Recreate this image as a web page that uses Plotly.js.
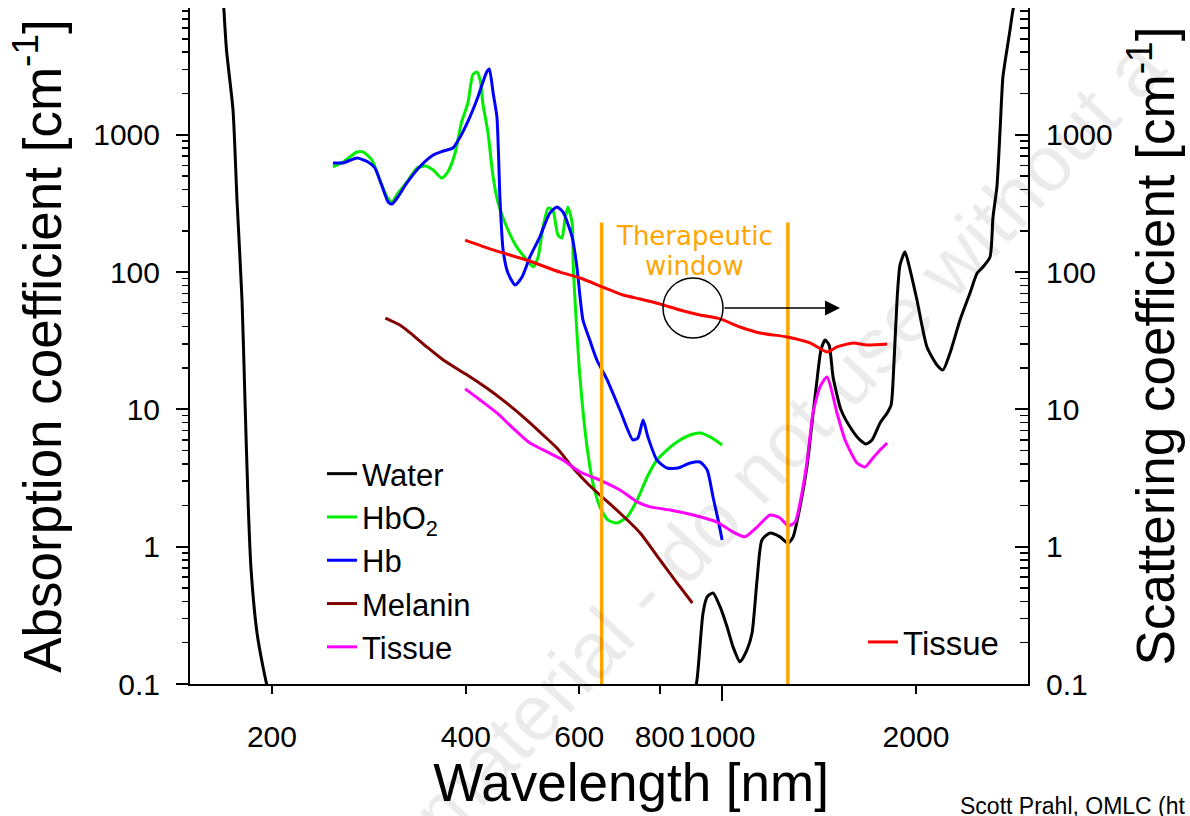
<!DOCTYPE html>
<html><head><meta charset="utf-8">
<script src="https://cdn.plot.ly/plotly-3.0.1.min.js"></script>
<style>html,body{margin:0;padding:0;background:#fff}#chart{width:1190px;height:816px}</style>
</head><body><div id="chart"></div>
<script>
// ---- data (wavelength in nm, coefficients in cm^-1) ----
const waterNm = [168,170,174,176.5,179.7,181.6,183.6,185.5,189.6,193.7,197.2,210,300,500,700,800,892,914,934,948,968,993,1018,1040,1066,1093,1113,1133,1153,1187,1230,1266,1289,1321,1354,1379,1404,1424,1445,1466,1487,1530,1591,1637,1673,1709,1759,1804,1830,1843,1869,1889,1923,1958,2007,2080,2157,2203,2259,2341,2426,2488,2541,2606,2634,2671,2700,2729,2768,2799,2829,2858];
const waterMua = [10000,4146,1516,335,62.6,11.7,2.19,0.711,0.235,0.133,0.0904,0.03,0.001,0.0003,0.006,0.02,0.06,0.107,0.329,0.431,0.46,0.364,0.26,0.186,0.145,0.177,0.235,0.572,1.12,1.26,1.18,1.06,1.18,1.95,3.81,7.96,16.4,27.1,32.0,29.4,17.2,9.9,7.08,5.99,5.6,5.99,7.96,9.42,10.8,16.4,62.6,113,140,104,62.6,28.5,21.0,19.4,25.8,44.8,70.4,98,109,129,252,417,1030,2636,4146,5797,8110,9595];

const hbo2Nm = [248.7,257.9,271,277,286,294,302,307,314,324,336,346,356,367,375,385,394,403,410,416,421,425,433,441,449,463,480,498,509,518,527,537,546,556,564,570,576,585,587,591,602,617,630,646,665,687,712,738,765,792,821,851,892,924,958,1000];
const hbo2Mua = [583,634,750,750,655,469,352,324,377,453,573,593,554,484,536,737,1240,1706,2729,2866,2506,1706,1030,493,318,213,152,122,109,129,213,293,283,186,177,240,298,228,116,62.6,16.4,5.32,2.91,1.95,1.56,1.49,1.65,2.19,3.22,4.28,5.06,5.79,6.51,6.73,6.30,5.51];

const hbNm = [248.7,257.9,271,282,289,296,303,307,313,324,339,356,369,382,392,402,416,431,435,441,447,452,457,465,477,489,503,521,540,554,566,585,595,602,608,623,639,663,694,727,740,754,767,792,821,854,892,924,948,968,986,1000];
const hbMua = [624,624,678,634,573,431,324,313,347,446,583,713,762,802,964,1219,1793,2866,3015,2018,1349,335,145,98.4,80.5,92,129,180,269,298,274,180,109,64.7,44.8,32.0,22.9,16.4,9.9,5.99,6.19,8.37,6.30,4.28,3.74,3.74,4.07,4.14,3.62,2.30,1.56,1.12];

const melaninNm = [300,316,331,348,369,402,431,463,491,521,554,587,617,646,694,746,801,851,899];
const melaninMua = [46.3,41.2,34.8,28.5,22.9,17.8,14.3,11.1,8.81,6.85,5.23,3.74,2.91,2.38,1.76,1.26,0.80,0.545,0.389];

const tissueNm = [399,421,447,473,503,535,566,602,646,694,738,773,830,902,982,1040,1085,1133,1187,1230,1266,1298,1321,1354,1384,1419,1455,1508,1552,1620,1667,1715,1759,1804];
const tissueMua = [14.1,11.7,9.42,7.33,5.69,4.90,4.28,3.50,3.06,2.59,2.12,1.95,1.85,1.70,1.51,1.28,1.18,1.39,1.70,1.62,1.42,1.51,2.08,4.07,9.42,14.6,17.2,9.42,5.99,4.07,3.81,4.43,5.06,5.69];

const scatNm = [399,441,498,560,602,653,702,746,801,860,924,993,1066,1145,1261,1369,1455,1508,1597,1679,1804];
const scatMus = [171,145,122,100,90.6,77.8,68.1,63.7,58.6,53.0,48.7,45.6,39.8,36.0,33.7,30.5,26.2,28.5,30.5,29.4,29.9];

const windowNm = [650, 1265];
const windowTop = 230;
const windowBottom = 0.1;

const xTickVals = [200,400,600,800,1000,2000];
const xTickText = ['200','400','600','800','1000','2000'];
const yTickVals = [0.1,1,10,100,1000];
const yTickText = ['0.1','1','10','100','1000'];
const minorMult = [2,3,4,5,6,7,8,9];

// ---- layout helpers ----
const FONT = 'Liberation Sans, Arial, Helvetica, sans-serif';
const ORANGE = '#FFA500';
const L = 190, R = 1028, T = 8, B = 684;
const pxX = v => (v - L) / (R - L);
const pxY = v => (B - v) / (B - T);
const xRange = [Math.log10(149.2), Math.log10(2985)];
const yRange = [-1, 3.9235];
const minorVals = [];
yTickVals.forEach(d => minorMult.forEach(m => minorVals.push(d * m)));

const line = (c) => ({color: c, width: 3, shape: 'spline', smoothing: 0.6});

const traces = [
  {x: waterNm, y: waterMua, name: 'Water', mode: 'lines', line: line('#000000')},
  {x: hbo2Nm, y: hbo2Mua, name: 'HbO<sub>2</sub>', mode: 'lines', line: line('#00EE00')},
  {x: hbNm, y: hbMua, name: 'Hb', mode: 'lines', line: line('#0000FF')},
  {x: melaninNm, y: melaninMua, name: 'Melanin', mode: 'lines', line: line('#800000')},
  {x: tissueNm, y: tissueMua, name: 'Tissue', mode: 'lines', line: line('#FF00FF')},
  {x: [windowNm[0], windowNm[0], null, windowNm[1], windowNm[1]],
   y: [windowBottom, windowTop, null, windowBottom, windowTop],
   mode: 'lines', line: {color: ORANGE, width: 3.5}, showlegend: false, hoverinfo: 'skip'},
  {x: scatNm, y: scatMus, name: 'Tissue', mode: 'lines', line: line('#FF0000'),
   xaxis: 'x2', yaxis: 'y2', legend: 'legend2'}
];

const tickFont = {family: FONT, size: 30, color: '#000'};
const titleFont = {family: FONT, size: 53, color: '#000'};

const layout = {
  width: 1190, height: 816,
  margin: {l: L, r: 1190 - R, t: T, b: 816 - B, pad: 0},
  paper_bgcolor: '#fff', plot_bgcolor: '#fff',
  showlegend: true,
  xaxis: {
    type: 'log', range: xRange, tickmode: 'array', tickvals: xTickVals, ticktext: xTickText,
    ticks: 'outside', ticklen: 8, tickwidth: 2, tickcolor: '#000',
    showline: true, linewidth: 2, linecolor: '#000', showgrid: false, zeroline: false,
    tickfont: tickFont, ticklabelstandoff: 17,
    title: {text: '&nbsp;&nbsp;&nbsp;Wavelength [nm]', font: titleFont, standoff: 11}
  },
  xaxis2: {
    type: 'log', range: xRange, overlaying: 'x', anchor: 'y2', side: 'bottom',
    tickmode: 'array', tickvals: [1000], ticks: 'outside', ticklen: 16, tickwidth: 2, tickcolor: '#000',
    showticklabels: false, showline: false, showgrid: false, zeroline: false
  },
  yaxis: {
    type: 'log', range: yRange, tickmode: 'array', tickvals: yTickVals, ticktext: yTickText,
    ticks: 'outside', ticklen: 12, tickwidth: 2, tickcolor: '#000',
    minor: {tickmode: 'array', tickvals: minorVals, ticks: 'outside', ticklen: 6, tickwidth: 1.5, tickcolor: '#000', showgrid: false},
    showline: true, linewidth: 2, linecolor: '#000', showgrid: false, zeroline: false,
    tickfont: tickFont, ticklabelstandoff: 10,
    title: {text: 'Absorption coefficient [cm<sup>-1</sup>]', font: titleFont, standoff: 15}
  },
  yaxis2: {
    type: 'log', range: yRange, overlaying: 'y', side: 'right', anchor: 'x2',
    tickmode: 'array', tickvals: yTickVals, ticktext: yTickText,
    ticks: 'inside', ticklen: 13, tickwidth: 2, tickcolor: '#000',
    minor: {tickmode: 'array', tickvals: minorVals, ticks: 'inside', ticklen: 8, tickwidth: 1.5, tickcolor: '#000', showgrid: false},
    showline: true, linewidth: 2, linecolor: '#000', showgrid: false, zeroline: false,
    tickfont: tickFont, ticklabelstandoff: 10,
    title: {text: 'Scattering coefficient [cm<sup>-1</sup>]', font: titleFont, standoff: 25}
  },
  legend: {
    x: pxX(322), xanchor: 'left', y: pxY(447), yanchor: 'top',
    font: {family: FONT, size: 31, color: '#000'}, bgcolor: 'rgba(0,0,0,0)', borderwidth: 0,
    tracegroupgap: 0, traceorder: 'normal'
  },
  legend2: {
    x: pxX(863), xanchor: 'left', y: pxY(614), yanchor: 'top',
    font: {family: FONT, size: 33, color: '#000'}, bgcolor: 'rgba(0,0,0,0)', borderwidth: 0
  },
  shapes: [
    {type: 'circle', xref: 'paper', yref: 'paper', x0: pxX(663), x1: pxX(723), y0: pxY(338), y1: pxY(278),
     line: {color: '#000', width: 1.5}, fillcolor: 'rgba(0,0,0,0)'}
  ],
  annotations: [
    {xref: 'paper', yref: 'paper', x: pxX(788), y: pxY(440), text: 'material - do not use without a',
     showarrow: false, textangle: -47, xanchor: 'center', yanchor: 'middle',
     font: {family: FONT, size: 79, color: 'rgba(0,0,0,0.08)'}},
    {xref: 'paper', yref: 'paper', x: pxX(694), y: pxY(236), text: 'Therapeutic', showarrow: false,
     xanchor: 'center', yanchor: 'middle', font: {family: 'DejaVu Sans, Verdana, sans-serif', size: 26, color: ORANGE}},
    {xref: 'paper', yref: 'paper', x: pxX(694), y: pxY(266), text: 'window', showarrow: false,
     xanchor: 'center', yanchor: 'middle', font: {family: 'DejaVu Sans, Verdana, sans-serif', size: 26, color: ORANGE}},
    {xref: 'paper', yref: 'paper', x: pxX(840), y: pxY(308), ax: -117, ay: 0, text: '',
     showarrow: true, arrowhead: 2, arrowsize: 2, arrowwidth: 1.5, arrowcolor: '#000', standoff: 0, startstandoff: 0},
    {xref: 'paper', yref: 'paper', x: pxX(958), y: pxY(806), text: 'Scott Prahl, OMLC (ht',
     showarrow: false, xanchor: 'left', yanchor: 'middle', font: {family: FONT, size: 23, color: '#000'}}
  ]
};

Plotly.newPlot('chart', traces, layout, {displayModeBar: false, staticPlot: true});
</script>
</body></html>
